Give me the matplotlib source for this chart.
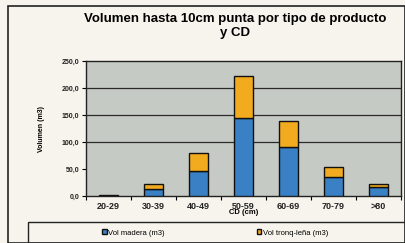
import matplotlib
matplotlib.use("Agg")
from matplotlib import pyplot as plt
from matplotlib.patches import Rectangle
import numpy as np

plt.rcParams['font.family'] = ['Liberation Sans', 'DejaVu Sans']

categorias = ['20-29', '30-39', '40-49', '50-59', '60-69', '70-79', '>80']
vol_madera = [0.5, 13.0, 46.0, 144.0, 90.0, 35.0, 17.0]
vol_tronq = [0.8, 9.0, 34.0, 79.0, 49.0, 18.0, 6.0]
yticks = [0, 50, 100, 150, 200, 250]

fig = plt.figure(figsize=(4.06, 2.43), dpi=100)
fig.patch.set_facecolor('#f6f4ec')

# marco exterior del grafico
fig.patches.append(Rectangle((8 / 406, 0), 397 / 406, 1 - 6 / 243, transform=fig.transFigure,
                             fill=False, edgecolor='#222222', linewidth=1.2))

ax = fig.add_axes([86 / 406, 1 - 196 / 243, 315 / 406, 135 / 243])
ax.set_facecolor('#c6cac4')

x = np.arange(len(categorias))
ax.bar(x, vol_madera, width=0.42, color='#3a80c4', edgecolor='#111111', linewidth=1.0,
       label='Vol madera (m3)', zorder=3)
ax.bar(x, vol_tronq, width=0.42, bottom=vol_madera, color='#f2aa1e', edgecolor='#111111',
       linewidth=1.0, label='Vol tronq-leña (m3)', zorder=3)

ax.set_xlim(-0.5, len(categorias) - 0.5)
ax.set_ylim(0, 250)
ax.set_yticks(yticks)
ax.set_yticklabels([('%.1f' % v).replace('.', ',') for v in yticks],
                   fontsize=5, fontweight='bold', color='#222222')
# lineas de division (la de 50 no se ve en el original)
for v in yticks[2:-1]:
    ax.axhline(v, color='#2a2a2a', linewidth=0.9, zorder=1)
ax.set_xticks(x)
ax.set_xticklabels(categorias, fontsize=6.5, fontweight='bold', color='#222222')
ax.set_xticks(np.arange(len(categorias) + 1) - 0.5, minor=True)
ax.tick_params(axis='x', which='major', length=0, pad=4)
ax.tick_params(axis='x', which='minor', length=3, width=0.8)
ax.tick_params(axis='y', length=3, width=0.8, pad=2)
for s in ax.spines.values():
    s.set_linewidth(1.0)
    s.set_color('#222222')

ax.set_ylabel('Volumen (m3)', fontsize=5, fontweight='bold', labelpad=12)
ax.set_xlabel('CD (cm)', fontsize=5.5, fontweight='bold', labelpad=-1)

fig.text(235 / 406, 1 - 26 / 243, 'Volumen hasta 10cm punta por tipo de producto\ny CD',
         ha='center', va='center', fontsize=9.5, fontweight='bold', linespacing=1.25)

# caja de la leyenda
fig.patches.append(Rectangle((28 / 406, 0), 380 / 406, 21 / 243, transform=fig.transFigure,
                             fill=False, edgecolor='#222222', linewidth=1.0))
leg = fig.legend(loc='center', bbox_to_anchor=(0.53, 10 / 243), ncol=2, frameon=False,
                 fontsize=5.5, handlelength=0.6, handleheight=0.6, handletextpad=0.2,
                 columnspacing=12)

fig.savefig('out.png', dpi=100, facecolor=fig.get_facecolor())
